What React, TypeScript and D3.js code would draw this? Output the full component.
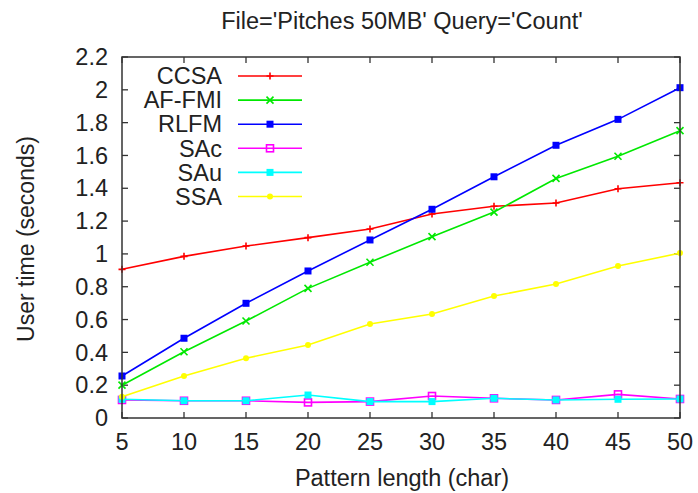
import React from "react";
import * as d3 from "d3";

const patternLengths = [5, 10, 15, 20, 25, 30, 35, 40, 45, 50];
const ccsa = [0.906, 0.985, 1.048, 1.099, 1.152, 1.243, 1.29, 1.31, 1.397, 1.434];
const afFmi = [0.2, 0.404, 0.591, 0.79, 0.949, 1.105, 1.255, 1.46, 1.595, 1.751];
const rlfm = [0.256, 0.486, 0.699, 0.896, 1.085, 1.272, 1.47, 1.662, 1.82, 2.013];
const sac = [0.11, 0.105, 0.105, 0.095, 0.1, 0.134, 0.12, 0.11, 0.144, 0.116];
const sau = [0.114, 0.105, 0.105, 0.14, 0.1, 0.1, 0.12, 0.11, 0.114, 0.116];
const ssa = [0.13, 0.256, 0.364, 0.445, 0.573, 0.634, 0.743, 0.817, 0.926, 1.005];
const yTicks = [0, 0.2, 0.4, 0.6, 0.8, 1, 1.2, 1.4, 1.6, 1.8, 2, 2.2];
const yTickLabels = ["0", "0.2", "0.4", "0.6", "0.8", "1", "1.2", "1.4", "1.6", "1.8", "2", "2.2"];
const xTicks = [5, 10, 15, 20, 25, 30, 35, 40, 45, 50];

const seriesNames = ["CCSA", "AF-FMI", "RLFM", "SAc", "SAu", "SSA"];
const seriesValues = [ccsa, afFmi, rlfm, sac, sau, ssa];
const seriesColors = ["#ff0000", "#00e800", "#0000ff", "#ff00ff", "#00ffff", "#ffff00"];
const seriesMarkers = ["plus", "cross", "fsquare", "osquare", "fsquare", "circle"];

const W = 698, H = 493;
const L = 122, R = 680, T = 57, B = 418;
const FONT = "'Liberation Sans', Arial, Helvetica, sans-serif";
const TXT = "#222";

function Marker({ type, x, y, color }: { type: string; x: number; y: number; color: string }) {
  const s = 3.5;
  if (type === "plus")
    return <path d={`M${x - s},${y}H${x + s}M${x},${y - s}V${y + s}`} stroke={color} strokeWidth={1.6} />;
  if (type === "cross")
    return <path d={`M${x - s},${y - s}L${x + s},${y + s}M${x - s},${y + s}L${x + s},${y - s}`} stroke={color} strokeWidth={1.6} />;
  if (type === "fsquare")
    return <rect x={x - s} y={y - s} width={2 * s} height={2 * s} fill={color} />;
  if (type === "osquare")
    return <rect x={x - s} y={y - s} width={2 * s} height={2 * s} fill="none" stroke={color} strokeWidth={1.6} />;
  return <circle cx={x} cy={y} r={3} fill={color} />;
}

export default function App() {
  const x = d3.scaleLinear().domain([5, 50]).range([L, R]);
  const y = d3.scaleLinear().domain([0, 2.2]).range([B, T]);
  const line = d3.line<number>().x((_, i) => x(patternLengths[i])).y((v) => y(v));
  const legendRowY = (i: number) => 76 + i * 24.1;

  return (
    <svg width={W} height={H} style={{ position: "absolute", left: 0, top: 0, background: "#fff" }} fontFamily={FONT}>
      <rect width={W} height={H} fill="#fff" />
      {/* title */}
      <text x={402} y={29} fontSize={23.5} textAnchor="middle" fill={TXT}>
        File='Pitches 50MB' Query='Count'
      </text>
      {/* ticks */}
      {yTicks.map((t, i) => (
        <g key={"y" + i}>
          <line x1={L} x2={L + 6} y1={y(t)} y2={y(t)} stroke="#333" strokeWidth={1.3} />
          <line x1={R} x2={R - 6} y1={y(t)} y2={y(t)} stroke="#333" strokeWidth={1.3} />
          <text x={108} y={y(t)} dy="0.35em" fontSize={23.5} textAnchor="end" fill={TXT}>
            {yTickLabels[i]}
          </text>
        </g>
      ))}
      {xTicks.map((t, i) => (
        <g key={"x" + i}>
          <line x1={x(t)} x2={x(t)} y1={B} y2={B - 6} stroke="#333" strokeWidth={1.3} />
          <line x1={x(t)} x2={x(t)} y1={T} y2={T + 6} stroke="#333" strokeWidth={1.3} />
          <text x={x(t)} y={450} fontSize={23.5} textAnchor="middle" fill={TXT}>
            {String(t)}
          </text>
        </g>
      ))}
      {/* axis labels */}
      <text x={402} y={486} fontSize={23.5} textAnchor="middle" fill={TXT}>
        Pattern length (char)
      </text>
      <text transform={`translate(34,239) rotate(-90)`} fontSize={23} textAnchor="middle" fill={TXT}>
        User time (seconds)
      </text>
      {/* series */}
      {seriesValues.map((vals, si) => (
        <g key={"s" + si}>
          <path d={line(vals) || ""} fill="none" stroke={seriesColors[si]} strokeWidth={1.6} />
          {vals.map((v, i) => (
            <Marker key={i} type={seriesMarkers[si]} x={x(patternLengths[i])} y={y(v)} color={seriesColors[si]} />
          ))}
        </g>
      ))}
      {/* legend */}
      {seriesNames.map((n, i) => (
        <g key={"l" + i}>
          <text x={222} y={legendRowY(i)} dy="0.35em" fontSize={23.5} textAnchor="end" fill={TXT}>
            {n}
          </text>
          <line x1={238} x2={302} y1={legendRowY(i)} y2={legendRowY(i)} stroke={seriesColors[i]} strokeWidth={1.6} />
          <Marker type={seriesMarkers[i]} x={270} y={legendRowY(i)} color={seriesColors[i]} />
        </g>
      ))}
      {/* frame */}
      <rect x={L} y={T} width={R - L} height={B - T} fill="none" stroke="#333" strokeWidth={1.5} />
    </svg>
  );
}
